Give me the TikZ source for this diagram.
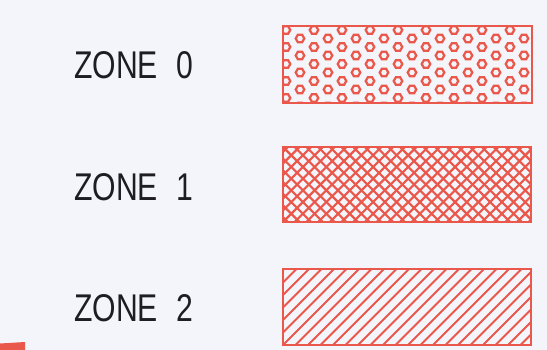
\documentclass[tikz,border=0pt]{standalone}
\usepackage{fontspec}
\setmainfont{Liberation Sans}
\definecolor{zred}{RGB}{234,88,76}
\definecolor{bgc}{RGB}{244,245,251}
\definecolor{ink}{RGB}{30,30,34}
\begin{document}
\begin{tikzpicture}[x=0.75pt,y=-0.75pt,
  zonelabel/.style={anchor=base west,inner sep=0pt,text=ink,font=\fontsize{29}{30}\selectfont},
  hatchline/.style={draw=zred,line width=1.6pt},
  frame/.style={draw=zred,line width=1.8pt}]
\useasboundingbox (0,0) rectangle (547,350);
\fill[bgc] (0,0) rectangle (547,350);
% labels
\node[zonelabel] (z0) at (74,78) {\scalebox{0.78}[1]{ZONE\hspace{0.6em}0}};
\node[zonelabel] (z1) at (74,200) {\scalebox{0.78}[1]{ZONE\hspace{0.6em}1}};
\node[zonelabel] (z2) at (74,321) {\scalebox{0.78}[1]{ZONE\hspace{0.6em}2}};
% zone 0 : hexagon rings
\begin{scope}
\clip (283,26) rectangle (532,103);
\foreach \i in {0,...,18}{
  \foreach \j in {0,...,5}{
    \pgfmathsetmacro{\cx}{286+\i*14}
    \pgfmathsetmacro{\cy}{30+\j*17+mod(\i,2)*8.5}
    \draw[zred,line width=1.7pt] (\cx,\cy) ++(4.3,0) -- ++(120:4.3) -- ++(180:4.3) -- ++(240:4.3) -- ++(300:4.3) -- ++(0:4.3) -- cycle;
  }
}
\end{scope}
\draw[frame] (283,26) rectangle (532,103);
% zone 1 : crosshatch
\begin{scope}
\clip (283,147) rectangle (531,222);
\foreach \k in {-10,...,32}{
  \draw[hatchline] (283+\k*11.7,222) -- ++(80,-80);
  \draw[hatchline] (283+\k*11.7,147) -- ++(80,80);
}
\end{scope}
\draw[frame] (283,147) rectangle (531,222);
% zone 2 : single hatch
\begin{scope}
\clip (283,269) rectangle (531,345);
\foreach \k in {-8,...,22}{
  \draw[hatchline,line width=1.4pt] (283+\k*12.5,345) -- ++(80,-80);
}
\end{scope}
\draw[frame] (283,269) rectangle (531,345);
% corner mark
\fill[zred] (0,343.5) -- (25,342) -- (25,350) -- (0,350) -- cycle;
\end{tikzpicture}
\end{document}
